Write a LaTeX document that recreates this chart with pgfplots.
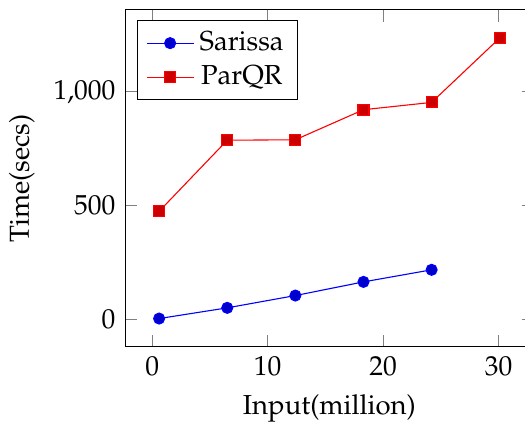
\documentclass[border=0pt]{standalone}
\usepackage[T1]{fontenc}
\usepackage{mathpazo}
\usepackage{pgfplots}
\pgfplotsset{compat=1.18}
\usetikzlibrary{calc}
\begin{document}
\begin{tikzpicture}
\begin{axis}[
  scale only axis,
  width=148.7pt, height=122.5pt,
  xlabel={Input(million)},
  ylabel={Time(secs)},
  legend pos=north west,
]
\addplot coordinates {(0.6,4) (6.5,51) (12.4,105) (18.3,165) (24.2,218)};
\addlegendentry{Sarissa}
\addplot coordinates {(0.6,475) (6.5,787) (12.4,789) (18.3,921) (24.2,953) (30.1,1236)};
\addlegendentry{ParQR}
\end{axis}
\pgfresetboundingbox
\path[use as bounding box] ($(current axis.south west)+(-45.5pt,-27.3pt)$) rectangle ($(current axis.north west)+(145.5pt,3.6pt)$);
\end{tikzpicture}
\end{document}
